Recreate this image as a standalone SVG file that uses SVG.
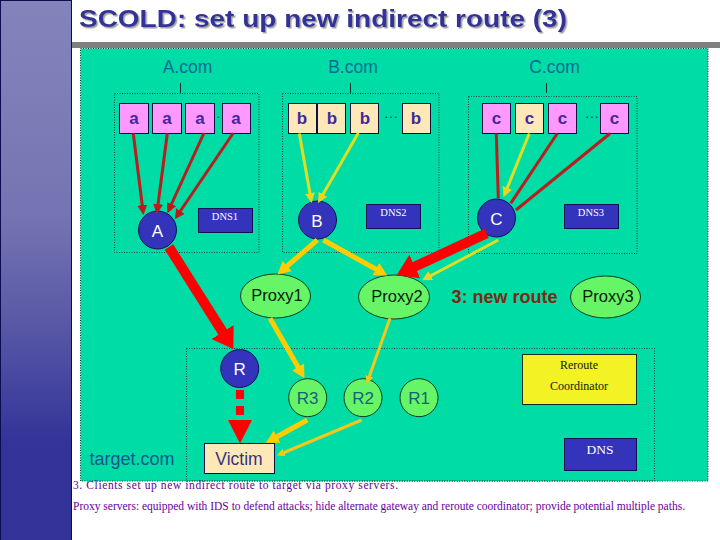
<svg xmlns="http://www.w3.org/2000/svg" width="720" height="540" viewBox="0 0 720 540">
<style>
text{font-family:"Liberation Sans",Arial,sans-serif;text-anchor:middle}
.dot{fill:none;stroke:#10403a;stroke-width:1;stroke-dasharray:1 1.5}
.dom{font-size:17.5px;fill:#0b6a94}
.tick{stroke:#10302c;stroke-width:1}
.hostbox{stroke:#101040;stroke-width:1}
.pink{fill:#ff99ff}
.cream{fill:#ffe8b8}
.host{font-size:17px;fill:#43289a;font-weight:700}
.ell{font-size:15px;fill:#0c4c70}
.blue{fill:#3333bb;stroke:#101050;stroke-width:1}
.cw{font-size:17px;fill:#fff}
.green{fill:#66f566;stroke:#0c3c20;stroke-width:1}
.px{font-size:16.5px;fill:#06200c}
.rt{font-size:17px;fill:#17607a}
.serif{font-family:"Liberation Serif",serif;fill:#fff}
.note{font-family:"Liberation Serif",serif;font-size:11.5px;fill:#660099;text-anchor:start}
.c{fill:none}
.dr{stroke:#b81e1e;stroke-width:3;marker-end:url(#hd)}
.dn{stroke:#b81e1e;stroke-width:3}
.ye{stroke:#dede22;stroke-width:3;marker-end:url(#hy)}
.or{stroke:#ffcc00;stroke-width:5;marker-end:url(#ho)}
.ot{stroke:#f2c81a;stroke-width:3;marker-end:url(#hs)}
.fat{stroke:#ff0000;stroke-width:10;marker-end:url(#hf)}
</style>
<defs>
<linearGradient id="bar" x1="0" y1="0" x2="0" y2="1"><stop offset="0" stop-color="#8484bc"/><stop offset="0.4" stop-color="#7474b2"/><stop offset="0.6" stop-color="#5858a6"/><stop offset="0.82" stop-color="#333399"/><stop offset="1" stop-color="#333399"/></linearGradient>
<filter id="sh" x="-5%" y="-20%" width="110%" height="150%"><feDropShadow dx="1.5" dy="1.5" stdDeviation="0.4" flood-color="#a0a0a0"/></filter>
<marker id="hd" markerUnits="userSpaceOnUse" markerWidth="10" markerHeight="10" refX="6" refY="5" orient="auto"><path d="M0 0L10 5L0 10Z" fill="#c01818"/></marker>
<marker id="hy" markerUnits="userSpaceOnUse" markerWidth="10" markerHeight="10" refX="6" refY="5" orient="auto"><path d="M0 0L10 5L0 10Z" fill="#e6d81e"/></marker>
<marker id="ho" markerUnits="userSpaceOnUse" markerWidth="13" markerHeight="14" refX="7" refY="7" orient="auto"><path d="M0 0L13 7L0 14Z" fill="#ffcc00"/></marker>
<marker id="hs" markerUnits="userSpaceOnUse" markerWidth="8" markerHeight="8" refX="4" refY="4" orient="auto"><path d="M0 0L8 4L0 8Z" fill="#f2c81a"/></marker>
<marker id="hf" markerUnits="userSpaceOnUse" markerWidth="20" markerHeight="26" refX="10" refY="13" orient="auto"><path d="M0 0L20 13L0 26Z" fill="#ff0000"/></marker>
</defs>
<rect width="720" height="540" fill="#fff"/>
<rect x="0.500" y="0.500" width="71" height="540" fill="url(#bar)" stroke="#0c0c50" stroke-width="1"/>
<rect x="72" y="42" width="648" height="6" fill="#808080"/>
<text x="323" y="27" font-size="24" font-weight="700" fill="#333399" filter="url(#sh)" textLength="488" lengthAdjust="spacingAndGlyphs">SCOLD: set up new indirect route (3)</text>
<rect x="80.500" y="48.500" width="627.500" height="432.500" fill="#00dca5" stroke="#10403a" stroke-dasharray="1 1.5"/>
<g id="domains">
<rect class="dot" x="114.500" y="93.500" width="144.500" height="159"/>
<rect class="dot" x="282.500" y="93.500" width="156.500" height="159"/>
<rect class="dot" x="468.500" y="96.500" width="168.500" height="157"/>
<rect class="dot" x="186.500" y="348.500" width="468" height="132.500"/>
<line class="tick" x1="180.500" y1="83" x2="180.500" y2="93"/>
<line class="tick" x1="350.500" y1="83" x2="350.500" y2="93"/>
<line class="tick" x1="546.500" y1="83" x2="546.500" y2="93"/>
<text class="dom" x="187.500" y="73">A.com</text>
<text class="dom" x="353" y="73">B.com</text>
<text class="dom" x="554.500" y="73">C.com</text>
<text x="132" y="465" font-size="18" fill="#14568c">target.com</text>
<text class="ell" x="218.500" y="118">…</text>
<text class="ell" x="391" y="118">…</text>
<text class="ell" x="592" y="118">…</text>
</g>
<g id="a1"><rect class="pink hostbox" x="119.500" y="103.500" width="29" height="30"/><text class="host" x="134" y="124">a</text></g>
<g id="a2"><rect class="pink hostbox" x="152.500" y="103.500" width="29" height="30"/><text class="host" x="167" y="124">a</text></g>
<g id="a3"><rect class="pink hostbox" x="185.500" y="103.500" width="29" height="30"/><text class="host" x="200" y="124">a</text></g>
<g id="a4"><rect class="pink hostbox" x="222.500" y="103.500" width="28" height="30"/><text class="host" x="236" y="124">a</text></g>
<g id="b1"><rect class="cream hostbox" x="288.500" y="103.500" width="28" height="30"/><text class="host" x="302" y="124">b</text></g>
<g id="b2"><rect class="cream hostbox" x="317.500" y="103.500" width="28" height="30"/><text class="host" x="332" y="124">b</text></g>
<g id="b3"><rect class="cream hostbox" x="350.500" y="103.500" width="28" height="30"/><text class="host" x="365" y="124">b</text></g>
<g id="b4"><rect class="cream hostbox" x="402.500" y="103.500" width="28" height="30"/><text class="host" x="416" y="124">b</text></g>
<g id="c1"><rect class="pink hostbox" x="482.500" y="103.500" width="28" height="30"/><text class="host" x="496.500" y="124">c</text></g>
<g id="c2"><rect class="cream hostbox" x="515.500" y="103.500" width="28" height="30"/><text class="host" x="529.500" y="124">c</text></g>
<g id="c3"><rect class="pink hostbox" x="548.500" y="103.500" width="28" height="30"/><text class="host" x="562.500" y="124">c</text></g>
<g id="c4"><rect class="pink hostbox" x="600.500" y="103.500" width="28" height="30"/><text class="host" x="614.500" y="124">c</text></g>
<g id="nodeA"><circle class="blue" cx="157.500" cy="230" r="19"/><text class="cw" x="157.500" y="236.500">A</text></g>
<g id="nodeB"><circle class="blue" cx="317.500" cy="220" r="19"/><text class="cw" x="317" y="226.500">B</text></g>
<g id="nodeC"><circle class="blue" cx="496.500" cy="218" r="19"/><text class="cw" x="496.500" y="224.500">C</text></g>
<g id="dns1"><rect class="blue" x="198.500" y="208.500" width="54" height="24"/><text class="serif" x="225" y="220" font-size="10.500">DNS1</text></g>
<g id="dns2"><rect class="blue" x="366.500" y="204.500" width="54" height="24"/><text class="serif" x="393.500" y="216" font-size="10.500">DNS2</text></g>
<g id="dns3"><rect class="blue" x="564.500" y="204.500" width="54" height="24"/><text class="serif" x="591" y="216" font-size="10.500">DNS3</text></g>
<g id="proxy1"><ellipse class="green" cx="275.500" cy="296" rx="35" ry="22"/><text class="px" x="277" y="301">Proxy1</text></g>
<g id="proxy2"><ellipse class="green" cx="394" cy="297" rx="35.500" ry="22"/><text class="px" x="397" y="302">Proxy2</text></g>
<g id="proxy3"><ellipse class="green" cx="605.500" cy="297" rx="35" ry="21"/><text class="px" x="608" y="302">Proxy3</text></g>
<text id="newroute" x="504.500" y="302.500" font-size="18" font-weight="700" fill="#7a2a10">3: new route</text>
<g id="nodeR"><circle class="blue" cx="239.700" cy="368.500" r="19"/><text class="cw" x="239.700" y="375">R</text></g>
<g id="r3"><circle class="green" cx="307.700" cy="397.700" r="19"/><text class="rt" x="307.700" y="404">R3</text></g>
<g id="r2"><circle class="green" cx="363" cy="397.700" r="19"/><text class="rt" x="363" y="404">R2</text></g>
<g id="r1"><circle class="green" cx="419" cy="397.700" r="19"/><text class="rt" x="419" y="404">R1</text></g>
<g id="victim"><rect x="204.500" y="443.500" width="70" height="30" fill="#ffe8b8" stroke="#101040"/><text x="239" y="465" font-size="17.500" fill="#333380">Victim</text></g>
<g id="coord"><rect x="522.500" y="354.500" width="114" height="50" fill="#f2f224" stroke="#0c2c20"/><text class="serif" x="579" y="369" font-size="12" style="fill:#102010">Reroute</text><text class="serif" x="579" y="390" font-size="12" style="fill:#102010">Coordinator</text></g>
<g id="dns"><rect class="blue" x="564.500" y="438.500" width="72" height="32"/><text class="serif" x="600" y="454" font-size="13.500">DNS</text></g>
<g id="connectors" class="c">
<line class="dr" x1="133.300" y1="133.500" x2="143" y2="211"/>
<line class="dr" x1="167.300" y1="133.500" x2="157.300" y2="210"/>
<line class="dr" x1="204" y1="133" x2="169" y2="209.500"/>
<line class="dr" x1="233.300" y1="133" x2="177" y2="216"/>
<line class="ye" x1="299.300" y1="133.500" x2="311" y2="199"/>
<line class="ye" x1="358.300" y1="133" x2="320" y2="199.500"/>
<line class="dn" x1="496.300" y1="133.500" x2="498.300" y2="198.300"/>
<line class="ye" x1="529.300" y1="133.500" x2="505" y2="193.500"/>
<line class="dn" x1="557.300" y1="133.500" x2="510.700" y2="203.300"/>
<line class="dn" x1="610" y1="133.500" x2="516" y2="210"/>
<line class="or" x1="317.300" y1="240" x2="282" y2="270.500"/>
<line class="or" x1="323.300" y1="240" x2="382" y2="272.500"/>
<line class="fat" x1="169" y1="247" x2="228" y2="340.500"/>
<line class="fat" x1="486.700" y1="233.300" x2="405.800" y2="270.800"/>
<line class="ye" x1="498.300" y1="240" x2="425.500" y2="278.500"/>
<line class="or" x1="270" y1="318.300" x2="301.500" y2="373"/>
<line class="ot" x1="390" y1="318.300" x2="368" y2="380"/>
<line class="or" x1="307.300" y1="420" x2="271" y2="440"/>
<line class="ot" x1="361.700" y1="420" x2="280.500" y2="454"/>
<rect x="236" y="390" width="8" height="9" fill="#ff0000" stroke="none"/>
<rect x="236" y="406" width="8" height="9" fill="#ff0000" stroke="none"/>
<path d="M228 420H252L240 443.500Z" fill="#ff0000" stroke="none"/>
</g>
<text class="note" x="73" y="489" textLength="325" lengthAdjust="spacing">3. Clients set up new indirect route to target via proxy servers.</text>
<text class="note" x="73" y="510" textLength="612" lengthAdjust="spacing">Proxy servers: equipped with IDS to defend attacks; hide alternate gateway and reroute coordinator; provide potential multiple paths.</text>
</svg>
